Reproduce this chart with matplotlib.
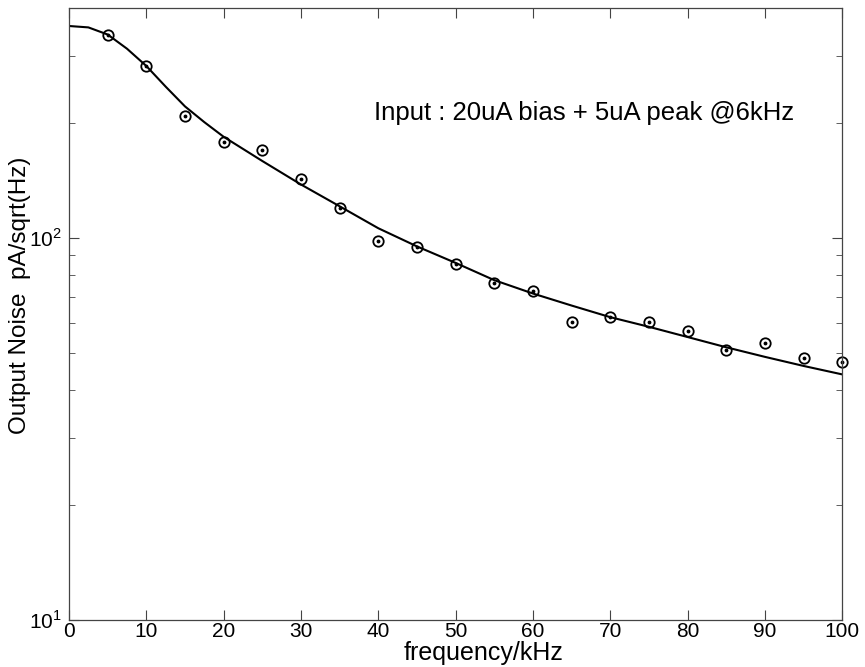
import matplotlib
matplotlib.use("Agg")
import matplotlib.pyplot as plt
from matplotlib.ticker import LogLocator, NullFormatter, FixedLocator

plt.rcParams["font.family"] = ["Liberation Sans", "DejaVu Sans"]
plt.rcParams["mathtext.fontset"] = "custom"
plt.rcParams["mathtext.rm"] = "Liberation Sans"

# measured points
freq = [5, 10, 15, 20, 25, 30, 35, 40, 45, 50,
        55, 60, 65, 70, 75, 80, 85, 90, 95, 100]
noise = [340.8, 281.6, 208.7, 178.4, 170.4, 142.5, 120.1, 98.0, 94.7, 85.5,
         76.4, 72.5, 60.3, 62.0, 60.1, 57.1, 51.0, 53.2, 48.5, 47.3]

# fitted curve
fit_f = [0, 2.5, 5, 7.5, 10, 12.5, 15, 17.5, 20, 25, 30, 35, 40, 45, 50,
         55, 60, 65, 70, 75, 80, 85, 90, 95, 100]
fit_n = [359, 356, 341, 313, 282, 249, 221, 201, 184, 159, 138, 121, 106,
         95, 86, 77.5, 71.5, 66.5, 62, 58.5, 55, 51.7, 48.8, 46.2, 43.9]

fig = plt.figure(figsize=(8.65, 6.67), dpi=100)
ax = fig.add_axes([0.0798, 0.0709, 0.894, 0.917])

ax.semilogy(fit_f, fit_n, color="black", lw=1.5)
ax.plot(freq, noise, "o", mfc="none", mec="black", ms=7.5, mew=1.3,
        clip_on=False)
ax.plot(freq, noise, ".", color="black", ms=3.5, clip_on=False)

ax.set_xlim(0, 100)
ax.set_ylim(10, 400)
ax.set_xticks(range(0, 101, 10))
ax.yaxis.set_major_locator(FixedLocator([10, 100]))
ax.yaxis.set_minor_locator(LogLocator(base=10, subs=range(2, 10)))
ax.yaxis.set_minor_formatter(NullFormatter())
ax.set_yticklabels([r"$10^{1}$", r"$10^{2}$"])

ax.tick_params(which="both", direction="in", top=True, right=True,
               labelsize=15, color="#444444")
ax.tick_params(axis="x", pad=2)
ax.tick_params(axis="y", pad=5)
ax.tick_params(which="major", length=7)
ax.tick_params(which="minor", length=4)
for s in ax.spines.values():
    s.set_linewidth(0.9)
    s.set_color("#444444")

ax.set_xlabel("frequency/kHz", fontsize=18)
ax.xaxis.set_label_coords(0.536, -0.054)
ax.xaxis.label.set_va("center")
ax.set_ylabel("Output Noise  pA/sqrt(Hz)", fontsize=17.5)
ax.yaxis.set_label_coords(-0.064, 0.53)
ax.yaxis.label.set_va("center")

ax.text(39.4, 212, "Input : 20uA bias + 5uA peak @6kHz", fontsize=18.5,
        va="center", ha="left")

plt.savefig("out.png", dpi=100)
plt.close()
